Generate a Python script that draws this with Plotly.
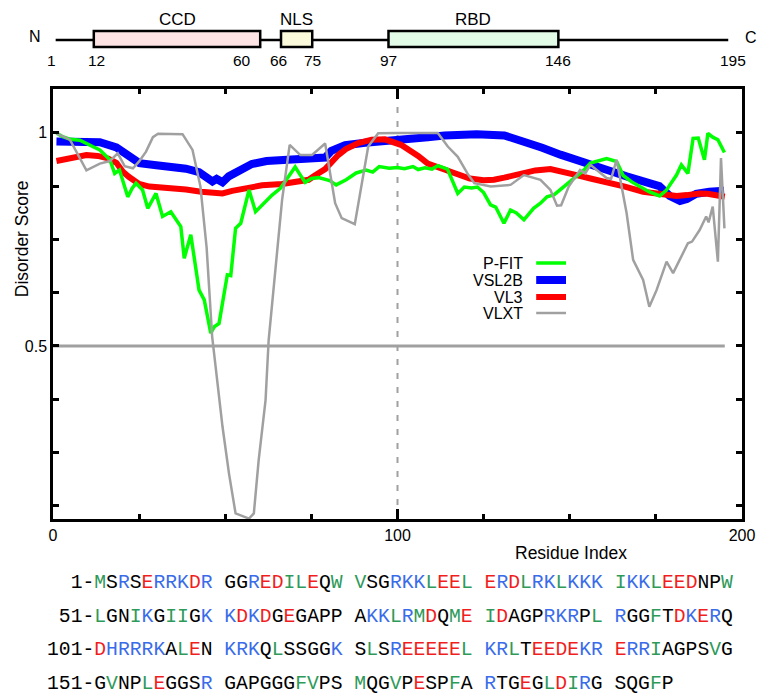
import plotly.graph_objects as go

# ---------------- data ----------------
# VSL2B
vsl2b_x = [1, 8, 13.6, 18.4, 22.2, 25.1, 30, 34.7, 38.6, 42.4, 45, 46.3, 47.5, 49.2, 51, 54, 57.7, 62,
           66.4, 70.3, 75, 79, 80.8, 84.8, 90.6, 94.4, 100, 108.8, 113.6, 123, 131, 137.7, 142, 147.3,
           152, 157, 162, 166.5, 171, 176, 179, 182, 184, 186.7, 190.5, 194.8]
vsl2b_y = [0.980, 0.979, 0.978, 0.966, 0.944, 0.929, 0.924, 0.921, 0.916, 0.908, 0.895, 0.886, 0.892, 0.884,
           0.898, 0.913, 0.927, 0.934, 0.937, 0.940, 0.943, 0.942, 0.958, 0.971, 0.977, 0.979, 0.981, 0.990,
           0.994, 0.997, 0.994, 0.978, 0.965, 0.949, 0.938, 0.925, 0.910, 0.898, 0.886, 0.875, 0.852, 0.840,
           0.845, 0.857, 0.862, 0.864]

# VL3
vl3_x = [1, 5, 9.7, 13, 16, 18.4, 20.3, 22, 25, 28, 31, 34.7, 38.6, 43, 46, 49.2, 52, 55, 57.8, 60.7, 66.5,
         70.3, 74.2, 76, 79, 82.8, 85, 88.6, 92.5, 96.3, 98.2, 101, 106, 108.8, 113.6, 117, 121, 125, 128,
         131, 135.7, 140, 144.4, 148, 152, 156, 161.7, 166, 171.3, 176, 181, 184, 187.6, 190, 193.4, 195]
vl3_y = [0.934, 0.942, 0.948, 0.946, 0.940, 0.930, 0.909, 0.897, 0.880, 0.874, 0.873, 0.871, 0.867, 0.862,
         0.859, 0.858, 0.864, 0.869, 0.875, 0.877, 0.880, 0.885, 0.890, 0.900, 0.915, 0.948, 0.962, 0.976,
         0.984, 0.985, 0.980, 0.972, 0.946, 0.928, 0.914, 0.903, 0.893, 0.889, 0.890, 0.895, 0.904, 0.912,
         0.915, 0.910, 0.901, 0.893, 0.883, 0.874, 0.862, 0.856, 0.852, 0.854, 0.858, 0.857, 0.852, 0.850]

# P-FIT
pfit_x = [1, 2.8, 5, 7.8, 11.5, 13.6, 16.5, 17.9, 19.3, 20.5, 21.7, 23, 24.1, 26, 27.5, 29.9, 31.8, 34.2,
          37.1, 38.1, 40, 42.4, 43.9, 45.8, 46.8, 48.2, 49.7, 50.6, 51.6, 53, 54.5, 55.9, 56.9, 58.8, 61.7,
          63.6, 66, 68.4, 70.3, 71.8, 73.2, 75, 77.1, 80.3, 82.2, 85.1, 88, 90.9, 92.8, 94.7, 97.6, 100,
          102, 104.5, 106, 108, 110, 111.7, 114.5, 117.5, 119.4, 121.5, 123.2, 125, 127, 128.5, 130.9,
          132.8, 134.5, 136.7, 139.5, 141.5, 143.4, 145.5, 148.3, 152.1, 154, 156, 158.5, 160.7, 163.6,
          165.5, 168, 170.4, 173, 176.1, 178, 181, 182.4, 184.3, 185.8, 187.3, 189.1, 190.1, 191.5, 193,
          194.9]
pfit_y = [1.000, 0.991, 0.985, 0.983, 0.968, 0.960, 0.937, 0.905, 0.913, 0.880, 0.850, 0.870, 0.882, 0.866,
          0.823, 0.858, 0.804, 0.815, 0.780, 0.706, 0.761, 0.631, 0.608, 0.530, 0.545, 0.553, 0.624, 0.667,
          0.665, 0.776, 0.788, 0.839, 0.866, 0.815, 0.839, 0.854, 0.870, 0.897, 0.920, 0.901, 0.884, 0.893,
          0.895, 0.888, 0.878, 0.890, 0.906, 0.913, 0.908, 0.921, 0.917, 0.919, 0.916, 0.921, 0.914, 0.918,
          0.915, 0.923, 0.915, 0.858, 0.873, 0.871, 0.873, 0.860, 0.831, 0.826, 0.788, 0.819, 0.812, 0.796,
          0.823, 0.835, 0.850, 0.855, 0.874, 0.901, 0.912, 0.929, 0.935, 0.940, 0.933, 0.900, 0.885, 0.874,
          0.862, 0.852, 0.865, 0.901, 0.925, 0.905, 0.987, 0.988, 0.937, 0.999, 0.990, 0.984, 0.954]

# VLXT
vlxt_x = [1, 4.9, 9.7, 13.6, 16.5, 18.8, 20.8, 23.2, 25, 27, 29, 30.5, 37.6, 40.5, 42.8, 44.6, 46.2, 47.7,
          49.2, 51.1, 53, 56.9, 58.3, 59.7, 61.7, 62.6, 64.6, 66.5, 68.7, 71.8, 75.2, 79, 81.9, 83.8, 87.6,
          89.6, 91.5, 94.4, 100, 111.7, 114.6, 117.5, 120.3, 122.3, 127.1, 132.8, 136.7, 141.5, 144.4,
          146.3, 147.5, 149.7, 153, 154.5, 156, 160.7, 162, 163.6, 166.5, 168.4, 171.3, 173.1, 175.2,
          178.1, 180, 181.9, 184.3, 185.5, 187.7, 189.6, 190.3, 191.5, 193, 193.9, 194.9]
vlxt_y = [0.999, 0.984, 0.912, 0.928, 0.934, 0.952, 0.922, 0.917, 0.933, 0.956, 0.990, 0.998, 0.997, 0.960,
          0.874, 0.730, 0.522, 0.412, 0.311, 0.200, 0.107, 0.095, 0.107, 0.232, 0.373, 0.514, 0.686, 0.843,
          0.972, 0.948, 0.948, 0.975, 0.835, 0.800, 0.786, 0.882, 0.968, 0.999, 1.000, 1.000, 0.968, 0.944,
          0.905, 0.882, 0.874, 0.878, 0.901, 0.890, 0.866, 0.829, 0.830, 0.874, 0.913, 0.905, 0.925, 0.894,
          0.892, 0.937, 0.812, 0.702, 0.655, 0.592, 0.631, 0.698, 0.671, 0.702, 0.741, 0.745, 0.772, 0.804,
          0.790, 0.827, 0.698, 0.941, 0.776]

threshold_x = [0, 195]
threshold_y = [0.5, 0.5]

# domain architecture
protein_range = [1, 195]
domain_names = ["CCD", "NLS", "RBD"]
domain_start = [12, 66, 97]
domain_end = [60, 75, 146]
domain_fill = ["#FDE3E3", "#FBFBDC", "#E2FBE6"]
boundary_labels = [1, 12, 60, 66, 75, 97, 146, 195]

sequence = ("MSRSERRKDRGGREDILEQWVSGRKKLEELERDLRKLKKKIKKLEEDNPW"
            "LGNIKGIIGKKDKDGEGAPPAKKLRMDQMEIDAGPRKRPLRGGFTDKERQ"
            "DHRRRKALENKRKQLSSGGKSLSREEEEELKRLTEEDEKRERRIAGPSVG"
            "GVNPLEGGSRGAPGGGFVPSMQGVPESPFARTGEGLDIRGSQGFP")

series_names = ["P-FIT", "VSL2B", "VL3", "VLXT"]

# ---------------- layout helpers ----------------
W, H = 765, 694
ML, MR, MT, MB = 53, 19, 10, 175
PW = W - ML - MR
PH = H - MT - MB


def pxx(p):
    return (p - ML) / PW


def pxy(p):
    return (H - MB - p) / PH


def v2(p):  # pixel y -> y2 value (y2 domain spans pixels 70..10)
    return (70 - p) / 60.0


FONT = "Liberation Sans, Arial, sans-serif"
MONO = "Liberation Mono, Courier New, monospace"
GRAY = "#A0A0A0"
colors = {"P-FIT": "#00FF00", "VSL2B": "#0000FF", "VL3": "#FF0000", "VLXT": GRAY}
widths = {"P-FIT": 3.5, "VSL2B": 8, "VL3": 6, "VLXT": 2.5}

fig = go.Figure()
fig.add_trace(go.Scatter(x=threshold_x, y=threshold_y, mode="lines",
                         line=dict(color=GRAY, width=3), showlegend=False, hoverinfo="skip"))
data = {"VSL2B": (vsl2b_x, vsl2b_y), "VL3": (vl3_x, vl3_y),
        "P-FIT": (pfit_x, pfit_y), "VLXT": (vlxt_x, vlxt_y)}
for name in ["VSL2B", "VL3", "P-FIT", "VLXT"]:
    xs, ys = data[name]
    fig.add_trace(go.Scatter(x=xs, y=ys, mode="lines", name=name,
                             line=dict(color=colors[name], width=widths[name]),
                             showlegend=False))

# invisible axis for domain diagram
fig.add_trace(go.Scatter(x=[protein_range[0]], y=[0.5], xaxis="x2", yaxis="y2",
                         mode="markers", marker=dict(opacity=0), showlegend=False, hoverinfo="skip"))

shapes = []
annotations = []


def ann(**kw):
    kw.setdefault("showarrow", False)
    kw.setdefault("xanchor", "center")
    kw.setdefault("yanchor", "middle")
    annotations.append(kw)


# dashed line at 100
shapes.append(dict(type="line", xref="x", yref="y domain", x0=100, x1=100, y0=0, y1=1,
                   line=dict(color=GRAY, width=2, dash="6px,8px"), layer="below"))

# domain diagram
shapes.append(dict(type="line", xref="x2", yref="y2", x0=protein_range[0], x1=protein_range[1],
                   y0=v2(40), y1=v2(40), line=dict(color="black", width=2.5)))
for nm, s, e, fc in zip(domain_names, domain_start, domain_end, domain_fill):
    shapes.append(dict(type="rect", xref="x2", yref="y2", x0=s, x1=e, y0=v2(47), y1=v2(31),
                       fillcolor=fc, line=dict(color="black", width=2.5)))
    ann(x=(s + e) / 2, y=v2(19), xref="x2", yref="y2", text=nm,
        font=dict(family=FONT, size=17, color="black"))
label_shift = {1: -4, 12: 3, 60: -18, 66: -3, 195: 5}
for b in boundary_labels:
    ann(x=b, y=v2(60), xref="x2", yref="y2", text=str(b), xshift=label_shift.get(b, 0),
        font=dict(family=FONT, size=15.5, color="black"))
ann(x=pxx(35), y=v2(36), xref="paper", yref="y2", text="N",
    font=dict(family=FONT, size=16, color="black"))
ann(x=pxx(755), y=v2(37), xref="paper", yref="y2", text="C",
    font=dict(family=FONT, size=16, color="black"))

# manual legend (text right, line sample on right)
leg_y = [263, 280, 297, 313]
for nm, yy in zip(series_names, leg_y):
    ann(x=pxx(528), y=pxy(yy), xref="paper", yref="paper", text=nm, xanchor="right",
        font=dict(family=FONT, size=16, color="black"))
    shapes.append(dict(type="line", xref="paper", yref="paper", x0=pxx(539), x1=pxx(569),
                       y0=pxy(yy), y1=pxy(yy), line=dict(color=colors[nm], width=widths[nm])))

# axis titles
ann(x=pxx(574), y=pxy(553), xref="paper", yref="paper", text="Residue Index",
    font=dict(family=FONT, size=17.5, color="black"))
ann(x=pxx(22), y=pxy(239), xref="paper", yref="paper", text="Disorder Score", textangle=-90,
    font=dict(family=FONT, size=17.5, color="black"))

# sequence
BLUE_AA, RED_AA, GREEN_AA = "KRH", "DE", "MILVFWYC"
SEQ_COL = {"b": "#3A6CEA", "r": "#F01E1E", "g": "#2E9A5A"}


def color_char(c):
    if c in BLUE_AA:
        return "<span style='color:%s'>%s</span>" % (SEQ_COL["b"], c)
    if c in RED_AA:
        return "<span style='color:%s'>%s</span>" % (SEQ_COL["r"], c)
    if c in GREEN_AA:
        return "<span style='color:%s'>%s</span>" % (SEQ_COL["g"], c)
    return c


row_y = [583, 616.5, 650, 683.5]
NB = "\u00a0"
for i, yy in enumerate(row_y):
    start = i * 50
    chunk = sequence[start:start + 50]
    groups = [chunk[k:k + 10] for k in range(0, len(chunk), 10)]
    prefix = ("%3d-" % (start + 1)).replace(" ", NB)
    body = NB.join("".join(color_char(c) for c in g) for g in groups)
    ann(x=pxx(45), y=pxy(yy), xref="paper", yref="paper", text=prefix + body,
        xanchor="left", align="left", font=dict(family=MONO, size=19.7, color="black"))

fig.update_layout(
    width=W, height=H, margin=dict(l=ML, r=MR, t=MT, b=MB),
    paper_bgcolor="white", plot_bgcolor="white", showlegend=False, hovermode=False,
    xaxis=dict(domain=[0, 1], range=[0, 200], anchor="y", showgrid=False, zeroline=False,
               showline=True, linecolor="black", linewidth=2.5, mirror="allticks",
               ticks="inside", ticklen=10, tickwidth=2.5, tickcolor="black",
               tickvals=[0, 100, 200], ticktext=["0", "100", "200"],
               minor=dict(tickvals=[25, 50, 75, 125, 150, 175], ticks="inside", ticklen=5,
                          tickwidth=2.5, tickcolor="black"),
               tickfont=dict(family=FONT, size=16, color="black")),
    yaxis=dict(domain=[0, pxy(89)], range=[0.094, 1.103], anchor="x", showgrid=False, zeroline=False,
               showline=True, linecolor="black", linewidth=2.5, mirror="allticks",
               ticks="inside", ticklen=6, tickwidth=2.5, tickcolor="black",
               tickvals=[0.5, 1], ticktext=["0.5", "1"],
               minor=dict(tickvals=[0.125, 0.25, 0.375, 0.625, 0.75, 0.875], ticks="inside",
                          ticklen=6, tickwidth=2.5, tickcolor="black"),
               tickfont=dict(family=FONT, size=16, color="black")),
    xaxis2=dict(domain=[0, 1], range=[0.23, 198.97], anchor="y2", visible=False),
    yaxis2=dict(domain=[pxy(70), 1], range=[0, 1], anchor="x2", visible=False),
    shapes=shapes, annotations=annotations,
)

fig.write_html("out.html")
